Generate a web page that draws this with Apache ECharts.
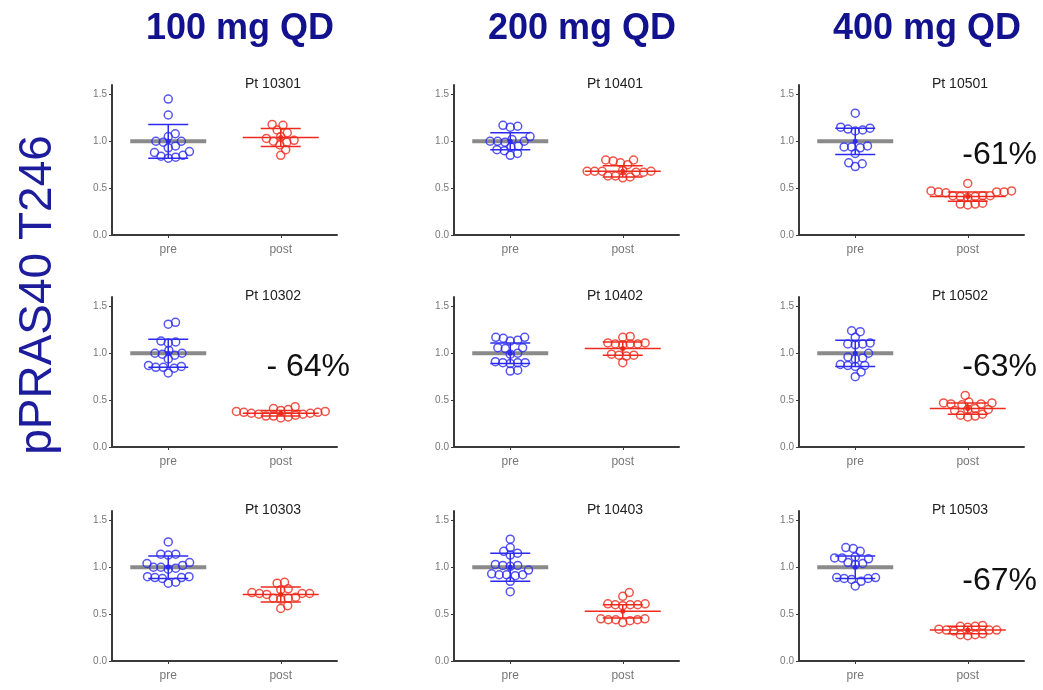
<!DOCTYPE html>
<html>
<head>
<meta charset="utf-8">
<title>pPRAS40 T246</title>
<script src="https://cdn.jsdelivr.net/npm/echarts@6/dist/echarts.min.js"></script>
</head>
<body style="margin:0;background:#fff">
<div id="main" style="width:1043px;height:690px;"></div>
<script type="text/javascript">
// dose groups (columns) and patients (column by column, top to bottom)
var doseLabels = ['100 mg QD', '200 mg QD', '400 mg QD'];
var patientIds = ['Pt 10301', 'Pt 10302', 'Pt 10303',
                  'Pt 10401', 'Pt 10402', 'Pt 10403',
                  'Pt 10501', 'Pt 10502', 'Pt 10503'];
var changeLabels = ['', '- 64%', '', '', '', '', '-61%', '-63%', '-67%'];
var groups = ['pre', 'post'];
var yTicks = [0, 0.5, 1.0, 1.5];

// normalized pPRAS40 T246 per sample
var pre10301 = [1.45, 1.28, 1.08, 1.05, 1.0, 1.0, 0.99, 0.95, 0.93, 0.89, 0.88, 0.85, 0.83, 0.82, 0.84];
var post10301 = [1.18, 1.17, 1.12, 1.09, 1.03, 1.0, 1.01, 1.05, 0.91, 0.85, 0.96, 0.99];
var pre10302 = [1.33, 1.31, 1.13, 1.12, 1.11, 1.03, 1.0, 1.0, 0.99, 0.98, 0.94, 0.87, 0.85, 0.84, 0.85, 0.86, 0.79];
var post10302 = [0.37, 0.36, 0.35, 0.37, 0.34, 0.36, 0.38, 0.35, 0.38, 0.40, 0.41, 0.39, 0.31, 0.32, 0.33, 0.33, 0.43];
var pre10303 = [1.27, 1.14, 1.13, 1.14, 1.05, 1.02, 1.04, 1.0, 1.0, 0.99, 0.98, 0.9, 0.89, 0.88, 0.89, 0.9, 0.83, 0.84];
var post10303 = [0.84, 0.83, 0.77, 0.76, 0.72, 0.73, 0.71, 0.72, 0.72, 0.67, 0.66, 0.68, 0.67, 0.56, 0.59];
var pre10401 = [1.17, 1.16, 1.15, 1.05, 1.02, 1.0, 1.0, 0.99, 1.0, 0.95, 0.94, 0.91, 0.9, 0.85, 0.87];
var post10401 = [0.80, 0.79, 0.80, 0.77, 0.75, 0.68, 0.68, 0.69, 0.67, 0.68, 0.68, 0.67, 0.63, 0.62, 0.61, 0.63];
var pre10402 = [1.17, 1.16, 1.17, 1.14, 1.13, 1.06, 1.05, 1.06, 1.0, 0.99, 0.9, 0.91, 0.9, 0.89, 0.9, 0.82, 0.81];
var post10402 = [1.18, 1.17, 1.1, 1.11, 1.1, 1.09, 1.1, 1.11, 0.98, 0.97, 0.98, 0.99, 0.9];
var pre10403 = [1.30, 1.21, 1.17, 1.15, 1.13, 1.02, 1.03, 1.02, 1.01, 0.97, 0.92, 0.93, 0.92, 0.91, 0.92, 0.85, 0.74];
var post10403 = [0.73, 0.69, 0.61, 0.6, 0.6, 0.59, 0.6, 0.61, 0.45, 0.44, 0.44, 0.43, 0.44, 0.45, 0.41];
var pre10501 = [1.30, 1.15, 1.12, 1.13, 1.11, 1.14, 0.95, 0.94, 0.93, 0.94, 0.87, 0.77, 0.76, 0.73];
var post10501 = [0.55, 0.47, 0.46, 0.45, 0.46, 0.47, 0.46, 0.42, 0.41, 0.42, 0.40, 0.42, 0.41, 0.34, 0.33, 0.32, 0.33];
var pre10502 = [1.24, 1.23, 1.17, 1.1, 1.11, 1.09, 1.1, 1.0, 0.95, 0.96, 0.94, 0.87, 0.86, 0.88, 0.87, 0.8, 0.75];
var post10502 = [0.55, 0.47, 0.46, 0.45, 0.46, 0.47, 0.48, 0.4, 0.41, 0.39, 0.4, 0.34, 0.33, 0.32, 0.35];
var pre10503 = [1.21, 1.17, 1.2, 1.11, 1.1, 1.09, 1.1, 1.04, 1.03, 1.05, 0.88, 0.89, 0.87, 0.88, 0.89, 0.85, 0.80];
var post10503 = [0.38, 0.37, 0.37, 0.36, 0.33, 0.34, 0.33, 0.32, 0.33, 0.29, 0.28, 0.28, 0.27];

var preSets = [pre10301, pre10302, pre10303, pre10401, pre10402, pre10403, pre10501, pre10502, pre10503];
var postSets = [post10301, post10302, post10303, post10401, post10402, post10403, post10501, post10502, post10503];

// mean and SD as drawn
var preMean = [1.0, 1.0, 1.0, 1.0, 1.0, 1.0, 1.0, 1.0, 1.0];
var preSD = [0.18, 0.15, 0.12, 0.09, 0.11, 0.15, 0.14, 0.14, 0.12];
var postMean = [1.04, 0.36, 0.71, 0.68, 1.05, 0.53, 0.41, 0.41, 0.33];
var postSD = [0.095, 0.03, 0.08, 0.06, 0.07, 0.07, 0.05, 0.06, 0.04];

var BLUE = '#2b2bf0', RED = '#ee2a1c';
var gridLeft = [112, 454, 799], gridTop = [85, 297, 511];
var gridW = 225, gridH = 150;
var pxX = gridW / 2, pxY = gridH / 1.6;

// simple beeswarm: push points sideways until they stop overlapping
function swarm(values, center) {
    var d = 7.5, placed = [];
    var sorted = values.slice().sort(function (a, b) { return a - b; });
    return sorted.map(function (v) {
        var y = v * pxY, blocked = [];
        placed.forEach(function (p) {
            var dy = Math.abs(p[1] - y);
            if (dy < d) {
                var w = Math.sqrt(d * d - dy * dy);
                blocked.push([p[0] - w, p[0] + w]);
            }
        });
        var cands = [0];
        blocked.forEach(function (b) { cands.push(b[0], b[1]); });
        cands.sort(function (a, b) { return Math.abs(a) - Math.abs(b) || b - a; });
        var x = 0;
        for (var i = 0; i < cands.length; i++) {
            var c = cands[i];
            var ok = blocked.every(function (b) { return c <= b[0] + 1e-6 || c >= b[1] - 1e-6; });
            if (ok) { x = c; break; }
        }
        placed.push([x, y]);
        return [center + x / pxX, v];
    });
}

function renderSummary(params, api) {
    var cx = api.value(0), m = api.value(1), sd = api.value(2);
    var isPre = api.value(3) === 0;
    var c = api.coord([cx, m]);
    var top = api.coord([cx, m + sd]);
    var bot = api.coord([cx, m - sd]);
    var color = isPre ? BLUE : RED;
    var meanHalf = 38, capHalf = 20;
    return {
        type: 'group',
        children: [
            { type: 'line', shape: { x1: c[0] - meanHalf, y1: c[1], x2: c[0] + meanHalf, y2: c[1] },
              style: { stroke: isPre ? '#8a8a8a' : RED, lineWidth: isPre ? 4 : 1.5 } },
            { type: 'line', shape: { x1: c[0], y1: top[1], x2: c[0], y2: bot[1] },
              style: { stroke: color, lineWidth: 1.5 } },
            { type: 'line', shape: { x1: c[0] - capHalf, y1: top[1], x2: c[0] + capHalf, y2: top[1] },
              style: { stroke: color, lineWidth: 1.5 } },
            { type: 'line', shape: { x1: c[0] - capHalf, y1: bot[1], x2: c[0] + capHalf, y2: bot[1] },
              style: { stroke: color, lineWidth: 1.5 } },
            { type: 'circle', shape: { cx: c[0], cy: c[1], r: 2.5 }, style: { fill: color } }
        ]
    };
}

var grid = [], xAxis = [], yAxis = [], series = [], graphic = [];
for (var i = 0; i < 9; i++) {
    var col = Math.floor(i / 3), row = i % 3;
    grid.push({ left: gridLeft[col], top: gridTop[row], width: gridW, height: gridH });
    xAxis.push({
        gridIndex: i, type: 'value', min: 0, max: 2,
        axisLine: { show: true, lineStyle: { color: '#3a3a3a', width: 2 } },
        axisTick: { show: true, customValues: [0.5, 1.5], length: 3, lineStyle: { color: '#3a3a3a' } },
        axisLabel: {
            customValues: [0.5, 1.5], margin: 9, fontSize: 12, color: '#777',
            fontFamily: 'Liberation Sans',
            formatter: function (v) { return v < 1 ? groups[0] : groups[1]; }
        },
        splitLine: { show: false }
    });
    yAxis.push({
        gridIndex: i, type: 'value', min: 0, max: 1.6,
        axisLine: { show: true, lineStyle: { color: '#3a3a3a', width: 2 } },
        axisTick: { show: true, customValues: yTicks, length: 3, lineStyle: { color: '#3a3a3a' } },
        axisLabel: {
            customValues: yTicks, margin: 5, fontSize: 10, color: '#777',
            fontFamily: 'Liberation Sans',
            formatter: function (v) { return v.toFixed(1); }
        },
        splitLine: { show: false }
    });
    series.push({
        type: 'custom', xAxisIndex: i, yAxisIndex: i, z: 1, silent: true,
        renderItem: renderSummary,
        data: [[0.5, preMean[i], preSD[i], 0], [1.5, postMean[i], postSD[i], 1]]
    });
    series.push({
        type: 'scatter', xAxisIndex: i, yAxisIndex: i, z: 2, silent: true,
        symbol: 'circle', symbolSize: 8,
        itemStyle: { color: 'rgba(0,0,0,0)', borderColor: BLUE, borderWidth: 1.5 },
        data: swarm(preSets[i], 0.5)
    });
    series.push({
        type: 'scatter', xAxisIndex: i, yAxisIndex: i, z: 2, silent: true,
        symbol: 'circle', symbolSize: 8,
        itemStyle: { color: 'rgba(0,0,0,0)', borderColor: RED, borderWidth: 1.5 },
        data: swarm(postSets[i], 1.5)
    });
    graphic.push({
        type: 'text', x: gridLeft[col] + 161, y: gridTop[row] - 1,
        style: { text: patientIds[i], font: '14px Liberation Sans', fill: '#222',
                 textAlign: 'center', textVerticalAlign: 'middle' }
    });
    if (changeLabels[i]) {
        graphic.push({
            type: 'text', x: gridLeft[col] + 238, y: gridTop[row] + 70,
            style: { text: changeLabels[i], font: '32px Liberation Sans', fill: '#111',
                     textAlign: 'right', textVerticalAlign: 'middle' }
        });
    }
}
for (var k = 0; k < 3; k++) {
    graphic.push({
        type: 'text', x: gridLeft[k] + 128, y: 29,
        style: { text: doseLabels[k], font: 'bold 36px Liberation Sans', fill: '#12128e',
                 textAlign: 'center', textVerticalAlign: 'middle' }
    });
}
graphic.push({
    type: 'text', x: 38, y: 295, rotation: Math.PI / 2,
    style: { text: 'pPRAS40 T246', font: '46px Liberation Sans', fill: '#1c1c9c',
             textAlign: 'center', textVerticalAlign: 'middle' }
});

var myChart = echarts.init(document.getElementById('main'));
myChart.setOption({
    backgroundColor: '#ffffff',
    animation: false,
    grid: grid,
    xAxis: xAxis,
    yAxis: yAxis,
    series: series,
    graphic: graphic
});
</script>
</body>
</html>
